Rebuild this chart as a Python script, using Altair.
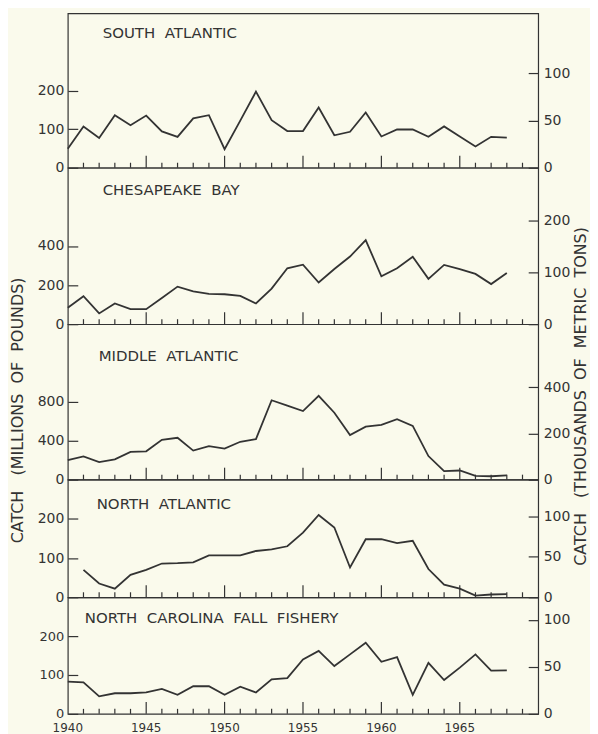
import altair as alt
import pandas as pd

# ---------------- data ----------------
YEARS = list(range(1940, 1969))
SOUTH_ATLANTIC = [49, 107, 77, 136, 110, 135, 94, 80, 128, 136, 48, 122, 197, 123, 95,
                  95, 156, 84, 93, 143, 81, 99, 99, 80, 107, 81, 55, 80, 78]
CHESAPEAKE_BAY = [84, 143, 55, 106, 77, 77, 134, 192, 168, 155, 153, 145, 106, 182, 286,
                  304, 213, 282, 346, 430, 245, 286, 345, 232, 303, 282, 257, 205, 262]
MIDDLE_ATLANTIC = [202, 240, 181, 209, 285, 292, 410, 431, 299, 344, 320, 390, 417, 817, 762,
                   706, 863, 689, 459, 546, 563, 623, 553, 243, 87, 94, 38, 35, 45]
NORTH_ATLANTIC_YEARS = list(range(1941, 1969))
NORTH_ATLANTIC = [70, 35, 22, 57, 70, 86, 87, 89, 107, 107, 107, 118, 122, 130,
                  165, 210, 178, 76, 148, 148, 138, 144, 72, 32, 22, 4, 7, 8]
NC_FALL_FISHERY = [83, 81, 45, 53, 53, 55, 64, 49, 71, 71, 49, 70, 55, 89, 92,
                   140, 162, 123, 153, 183, 134, 146, 49, 131, 87, 119, 153, 111, 112]

NB = "\u00a0"
PANEL_NAMES = ["SOUTH ATLANTIC", "CHESAPEAKE BAY", "MIDDLE ATLANTIC",
               "NORTH ATLANTIC", "NORTH CAROLINA FALL FISHERY"]
LEFT_TICKS = [[0, 100, 200], [0, 200, 400], [0, 400, 800], [0, 100, 200], [0, 100, 200]]
RIGHT_TICKS = [[0, 50, 100], [0, 100, 200], [0, 200, 400], [0, 50, 100], [0, 50, 100]]
LABEL_YEARS = [1940, 1945, 1950, 1955, 1960, 1965]
MAJOR_YEARS = [1945, 1950, 1955, 1960, 1965]
MINOR_YEARS = [y for y in range(1941, 1970) if y % 5 != 0]
LB_TO_T = 0.4536  # million pounds -> thousand metric tons

LEFT_TITLE = "CATCH" + NB * 3 + "(MILLIONS" + NB * 2 + "OF" + NB * 2 + "POUNDS)"
RIGHT_TITLE = "CATCH" + NB * 3 + "(THOUSANDS" + NB * 2 + "OF" + NB * 2 + "METRIC" + NB * 2 + "TONS)"

# ---------------- layout / style ----------------
INK = "#333333"
BG = "#fafaec"
FONT = "DejaVu Sans"
WIDTH = 472
HEIGHTS = [155, 157, 156, 118, 117]
LEFT_DOMAIN = [400, 800, 1600, 300, 300]
RIGHT_DOMAIN = [164, 301, 674, 145, 124]
TITLE_POS = [(35, 20), (35, 22), (31, 32), (29, 24), (17, 21)]

series = [(YEARS, SOUTH_ATLANTIC), (YEARS, CHESAPEAKE_BAY), (YEARS, MIDDLE_ATLANTIC),
          (NORTH_ATLANTIC_YEARS, NORTH_ATLANTIC), (YEARS, NC_FALL_FISHERY)]

xscale = alt.Scale(domain=[1940, 1970], nice=False, zero=False)


def panel(i):
    years, values = series[i]
    h = HEIGHTS[i]
    last = i == len(series) - 1
    df = pd.DataFrame({"year": years, "value": values})
    base = alt.Chart(df)

    left_axis = alt.Axis(orient="left", values=LEFT_TICKS[i], tickSize=10, offset=-10,
                         domain=False, grid=False, labelPadding=4,
                         labelFontSize=13 if last else 14,
                         format="d", tickWidth=1.2,
                         title=LEFT_TITLE if i == 2 else None, titlePadding=12,
                         titleFontSize=16, titleFontWeight="normal", titleY=86)
    right_axis = alt.Axis(orient="right", values=RIGHT_TICKS[i], tickSize=10, offset=-10,
                          domain=False, grid=False, labelPadding=5, labelFontSize=14,
                          format="d", tickWidth=1.2,
                          title=RIGHT_TITLE if i == 2 else None, titleAngle=270,
                          titlePadding=19, titleFontSize=16, titleFontWeight="normal",
                          titleY=72)

    line = base.mark_line(color=INK, strokeWidth=1.8).encode(
        x=alt.X("year:Q", scale=xscale, axis=None),
        y=alt.Y("value:Q", scale=alt.Scale(domain=[0, LEFT_DOMAIN[i]], nice=False),
                axis=left_axis),
    )
    right = base.transform_calculate(tons=f"datum.value * {LB_TO_T}").mark_line(
        opacity=0).encode(
        x=alt.X("year:Q", scale=xscale, axis=None),
        y=alt.Y("tons:Q", scale=alt.Scale(domain=[0, RIGHT_DOMAIN[i]], nice=False),
                axis=right_axis),
    )
    minor = alt.Chart(pd.DataFrame({"year": MINOR_YEARS})).mark_rule(
        color=INK, strokeWidth=1.2).encode(
        x=alt.X("year:Q", scale=xscale, axis=None),
        y=alt.value(h - 5), y2=alt.value(h),
    )
    major = alt.Chart(pd.DataFrame({"year": MAJOR_YEARS})).mark_rule(
        color=INK, strokeWidth=1.2).encode(
        x=alt.X("year:Q", scale=xscale, axis=None),
        y=alt.value(h - 12), y2=alt.value(h),
    )
    tx, ty = TITLE_POS[i]
    label = alt.Chart(pd.DataFrame({"name": [PANEL_NAMES[i].replace(" ", NB * 2)]})).mark_text(
        align="left", baseline="middle", fontSize=15, font=FONT, color=INK).encode(
        x=alt.value(tx), y=alt.value(ty), text="name:N")

    layers = [line, right, minor, major, label]
    if last:
        year_labels = alt.Chart(pd.DataFrame({"year": LABEL_YEARS})).mark_text(
            align="center", baseline="middle", fontSize=12, font=FONT, color=INK).encode(
            x=alt.X("year:Q", scale=xscale, axis=None),
            y=alt.value(h + 14),
            text=alt.Text("year:Q", format="d"),
        )
        layers.append(year_labels)

    return alt.layer(*layers).resolve_scale(y="independent").properties(
        width=WIDTH, height=h)


chart = alt.vconcat(*[panel(i) for i in range(len(series))], spacing=0, bounds="flush")
chart = chart.resolve_scale(x="independent", y="independent").resolve_axis(
    x="independent", y="independent")
chart = chart.configure(
    background=BG, padding={"left": 0, "top": 3, "right": 0, "bottom": 14}
).configure_view(stroke=INK, strokeWidth=1.2).configure_axis(
    labelFont=FONT, titleFont=FONT, labelColor=INK, titleColor=INK, tickColor=INK
)

chart.save("out.html", embed_options={"renderer": "svg", "actions": False})
